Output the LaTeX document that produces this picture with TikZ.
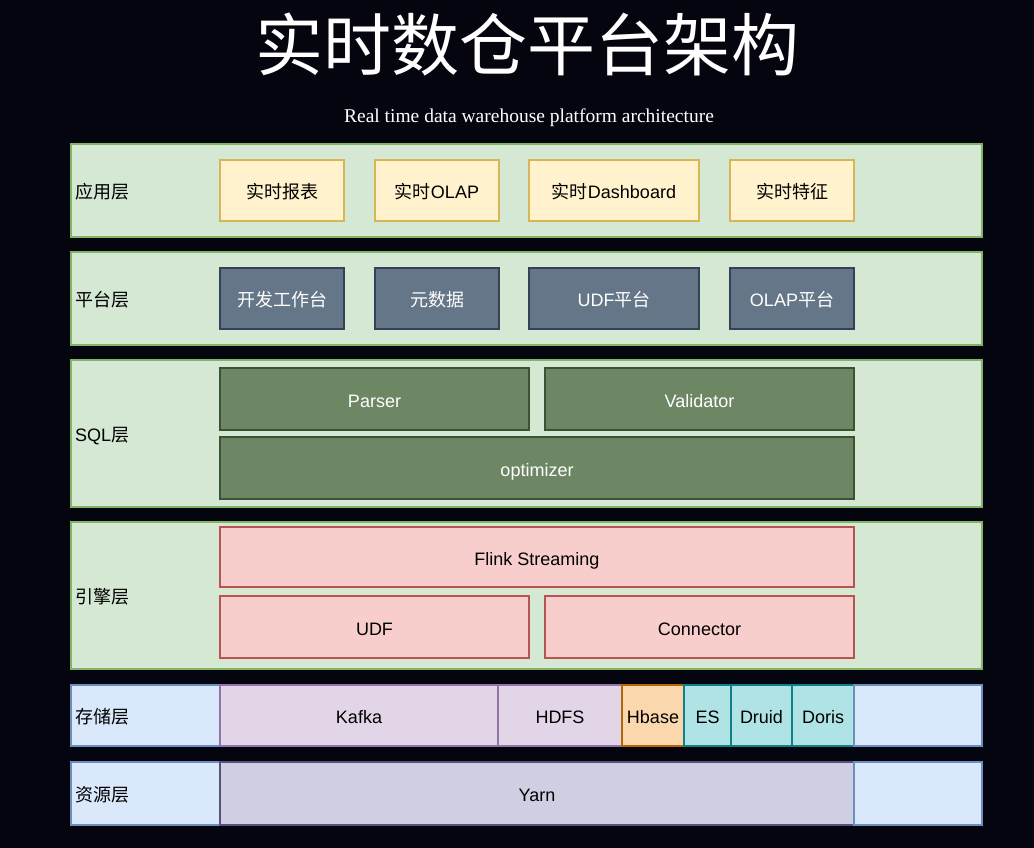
\documentclass[tikz,border=0pt]{standalone}
\usepackage{fontspec}
\setmainfont{Liberation Serif}
\setsansfont{Liberation Sans}
\newfontfamily\cjk{Noto Sans CJK SC}
\newcommand{\zh}[1]{{\cjk #1}}

\definecolor{bgdark}{HTML}{05050F}
\definecolor{layerfill}{HTML}{D5E8D4}
\definecolor{layerdraw}{HTML}{82B366}
\definecolor{appfill}{HTML}{FFF2CC}
\definecolor{appdraw}{HTML}{D6B656}
\definecolor{platfill}{HTML}{647687}
\definecolor{platdraw}{HTML}{314354}
\definecolor{sqlfill}{HTML}{6D8764}
\definecolor{sqldraw}{HTML}{3A5431}
\definecolor{engfill}{HTML}{F8CECC}
\definecolor{engdraw}{HTML}{B85450}
\definecolor{bluefill}{HTML}{DAE8FC}
\definecolor{bluedraw}{HTML}{6C8EBF}
\definecolor{purplefill}{HTML}{E1D5E7}
\definecolor{purpledraw}{HTML}{9673A6}
\definecolor{orangefill}{HTML}{FAD7AC}
\definecolor{orangedraw}{HTML}{B46504}
\definecolor{tealfill}{HTML}{B0E3E6}
\definecolor{tealdraw}{HTML}{0E8088}
\definecolor{yarnfill}{HTML}{D0CEE2}
\definecolor{yarndraw}{HTML}{56517E}

\tikzset{
    box/.style={rectangle, line width=1.2pt, inner sep=0pt, text height=18pt, text depth=2pt,
        font=\sffamily\fontsize{18}{20}\selectfont},
    layer/.style={box, draw=layerdraw, fill=layerfill, minimum width=911pt},
    layername/.style={anchor=west, inner sep=0pt, text height=18pt, text depth=2pt,
        font=\sffamily\fontsize{18}{20}\selectfont},
    appbox/.style={box, draw=appdraw, fill=appfill, minimum height=61pt},
    platbox/.style={box, draw=platdraw, fill=platfill, text=white, minimum height=61pt},
    sqlbox/.style={box, draw=sqldraw, fill=sqlfill, text=white, minimum height=62pt},
    engbox/.style={box, draw=engdraw, fill=engfill},
}

\begin{document}
\begin{tikzpicture}[x=1pt, y=-1pt]
        \fill[bgdark] (0,0) rectangle (1034,848);   % background, also fixes the size

        \node[text=white, font=\cjk\fontsize{68}{70}\selectfont] (title) at (527,45) {实时数仓平台架构};
        \node[text=white, font=\rmfamily\fontsize{19.5}{21}\selectfont] (subtitle) at (529,117.5) {Real time data warehouse platform architecture};

        % layers
        \node[layer, minimum height=93pt] (app) at (526.5,190.5) {};
        \node[layer, minimum height=93pt] (plat) at (526.5,298.5) {};
        \node[layer, minimum height=147pt] (sql) at (526.5,433.5) {};
        \node[layer, minimum height=147pt] (eng) at (526.5,595.5) {};

        \node[layername] (appname) at (75,190.5) {\zh{应用层}};
        \node[layername] (platname) at (75,298.5) {\zh{平台层}};
        \node[layername] (sqlname) at (75,433.5) {SQL\zh{层}};
        \node[layername] (engname) at (75,595.5) {\zh{引擎层}};

        \node[appbox, minimum width=124pt] (report) at (282,190.5) {\zh{实时报表}};
        \node[appbox, minimum width=124pt] (olap) at (437,190.5) {\zh{实时}OLAP};
        \node[appbox, minimum width=170pt] (dash) at (614,190.5) {\zh{实时}Dashboard};
        \node[appbox, minimum width=124pt] (feature) at (792,190.5) {\zh{实时特征}};

        \node[platbox, minimum width=124pt] (workbench) at (282,298.5) {\zh{开发工作台}};
        \node[platbox, minimum width=124pt] (meta) at (437,298.5) {\zh{元数据}};
        \node[platbox, minimum width=170pt] (udfplat) at (614,298.5) {UDF\zh{平台}};
        \node[platbox, minimum width=124pt] (olapplat) at (792,298.5) {OLAP\zh{平台}};

        \node[sqlbox, minimum width=309pt] (parser) at (374.5,399) {Parser};
        \node[sqlbox, minimum width=309pt] (validator) at (699.5,399) {Validator};
        \node[sqlbox, minimum width=634pt] (optimizer) at (537,468) {optimizer};

        \node[engbox, minimum width=634pt, minimum height=60pt] (flink) at (537,557) {Flink Streaming};
        \node[engbox, minimum width=309pt, minimum height=62pt] (udf) at (374.5,627) {UDF};
        \node[engbox, minimum width=309pt, minimum height=62pt] (connector) at (699.5,627) {Connector};

        % storage row
        \node[box, draw=bluedraw, fill=bluefill, minimum width=149pt, minimum height=61pt] (store) at (145.5,715.5) {};
        \node[layername] (storename) at (75,715.5) {\zh{存储层}};
        \node[box, draw=purpledraw, fill=purplefill, minimum width=278pt, minimum height=61pt] (kafka) at (359,715.5) {Kafka};
        \node[box, draw=purpledraw, fill=purplefill, minimum width=124pt, minimum height=61pt] (hdfs) at (560,715.5) {HDFS};
        \node[box, draw=orangedraw, fill=orangefill, minimum width=62pt, minimum height=61pt] (hbase) at (653,715.5) {Hbase};
        \node[box, draw=tealdraw, fill=tealfill, minimum width=47pt, minimum height=61pt] (es) at (707.5,715.5) {ES};
        \node[box, draw=tealdraw, fill=tealfill, minimum width=61pt, minimum height=61pt] (druid) at (761.5,715.5) {Druid};
        \node[box, draw=tealdraw, fill=tealfill, minimum width=62pt, minimum height=61pt] (doris) at (823,715.5) {Doris};
        \node[box, draw=bluedraw, fill=bluefill, minimum width=128pt, minimum height=61pt] (storerest) at (918,715.5) {};

        % resource row
        \node[box, draw=bluedraw, fill=bluefill, minimum width=149pt, minimum height=63pt] (res) at (145.5,793.5) {};
        \node[layername] (resname) at (75,793.5) {\zh{资源层}};
        \node[box, draw=yarndraw, fill=yarnfill, minimum width=634pt, minimum height=63pt] (yarn) at (537,793.5) {Yarn};
        \node[box, draw=bluedraw, fill=bluefill, minimum width=128pt, minimum height=63pt] (resrest) at (918,793.5) {};
    \end{tikzpicture}
\end{document}
